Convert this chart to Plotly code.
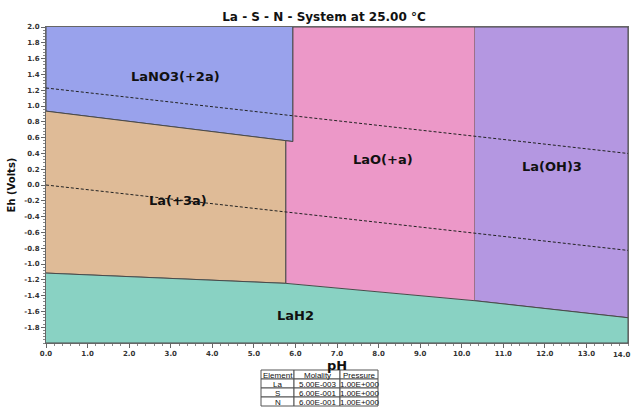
import plotly.graph_objects as go

# ---- data ----
# region polygons (pH, Eh)
lano3_ph = [0.0, 0.0, 5.94, 5.94]
lano3_eh = [2.0, 0.935, 0.55, 2.0]

la3_ph = [0.0, 5.77, 5.77, 0.0]
la3_eh = [0.935, 0.561, -1.245, -1.115]

lao_ph = [5.77, 5.77, 5.94, 5.94, 10.32, 10.32]
lao_eh = [-1.245, 0.561, 0.55, 2.0, 2.0, -1.465]

laoh3_ph = [10.32, 14.0, 14.0, 10.32]
laoh3_eh = [2.0, 2.0, -1.68, -1.465]

lah2_ph = [0.0, 5.77, 10.32, 14.0, 14.0, 0.0]
lah2_eh = [-1.115, -1.245, -1.465, -1.68, -2.0, -2.0]

# water stability lines
water_ph = [0.0, 14.0]
water_upper = [1.228, 0.399]
water_lower = [0.0, -0.828]

# labels
label_text = ["LaNO3(+2a)", "La(+3a)", "LaO(+a)", "La(OH)3", "LaH2"]
label_ph = [3.12, 3.17, 8.1, 12.17, 6.0]
label_eh = [1.37, -0.2, 0.32, 0.23, -1.65]

# table
tbl_header = ["Element", "Molality", "Pressure"]
tbl_element = ["La", "S", "N"]
tbl_molality = ["5.00E-003", "6.00E-001", "6.00E-001"]
tbl_pressure = ["1.00E+000", "1.00E+000", "1.00E+000"]

x_ticks = [i * 1.0 for i in range(15)]
y_ticks = [round(-1.8 + 0.2 * i, 1) for i in range(20)]

regions = [
    (lano3_ph, lano3_eh, "#99A2EC"),
    (la3_ph, la3_eh, "#DFBB97"),
    (lao_ph, lao_eh, "#EC98C8"),
    (laoh3_ph, laoh3_eh, "#B497E1"),
    (lah2_ph, lah2_eh, "#89D2C3"),
]

W, H = 633, 407
ML, MR, MT, MB = 46, 5, 27, 0
PW, PH = W - ML - MR, H - MT - MB


def px2x(px):
    return (px - ML) / PW


def py2y(py):
    return (H - MB - py) / PH


fig = go.Figure()
for px, py, col in regions:
    fig.add_trace(go.Scatter(x=px, y=py, fill="toself", fillcolor=col, mode="lines",
                             line=dict(color="#4a4a4a", width=1), hoverinfo="skip",
                             showlegend=False))

for wy in (water_upper, water_lower):
    fig.add_trace(go.Scatter(x=water_ph, y=wy, mode="lines",
                             line=dict(color="#222222", width=1, dash="3px,2px"),
                             hoverinfo="skip", showlegend=False))

for t, x, y in zip(label_text, label_ph, label_eh):
    fig.add_annotation(x=x, y=y, text="<b>" + t + "</b>", showarrow=False,
                       font=dict(family="DejaVu Sans", size=13, color="#111111"))

# right-edge tick label, kept inside the page
fig.add_annotation(x=14.0, y=-2.0, xref="x", yref="y", text="<b>14.0</b>", showarrow=False,
                   yanchor="top", yshift=-6, xanchor="right", xshift=4,
                   font=dict(family="DejaVu Sans", size=7, color="#333"))

# table drawn with shapes + annotations
col_edges = [261, 294, 340, 378]
row_top = 370
row_h = 9
rows = [tbl_header] + [list(r) for r in zip(tbl_element, tbl_molality, tbl_pressure)]
shapes = []
for ri, row in enumerate(rows):
    y0 = row_top + ri * row_h
    y1 = y0 + row_h
    for ci, txt in enumerate(row):
        shapes.append(dict(type="rect", xref="paper", yref="paper",
                           x0=px2x(col_edges[ci]), x1=px2x(col_edges[ci + 1]),
                           y0=py2y(y1), y1=py2y(y0),
                           line=dict(color="#555555", width=1), fillcolor="white"))
        fig.add_annotation(xref="paper", yref="paper",
                           x=px2x((col_edges[ci] + col_edges[ci + 1]) / 2),
                           y=py2y((y0 + y1) / 2 + 0.5), text=txt, showarrow=False,
                           xanchor="center", yanchor="middle",
                           font=dict(family="Liberation Sans", size=8, color="#111"))

fig.update_layout(
    width=W, height=H,
    margin=dict(l=ML, r=MR, t=MT, b=MB),
    plot_bgcolor="white", paper_bgcolor="white",
    shapes=shapes,
    title=dict(text="<b>La - S - N - System at 25.00 °C</b>", x=324 / 633, xanchor="center",
               y=1 - 17 / 407, yanchor="middle",
               font=dict(family="DejaVu Sans", size=12, color="#111")),
    xaxis=dict(range=[0, 14], tickvals=x_ticks[:-1], ticktext=[f"<b>{v:.1f}</b>" for v in x_ticks[:-1]],
               showgrid=True, gridcolor="rgba(120,120,120,0.25)", griddash="dot", gridwidth=1,
               showline=True, linecolor="#666", linewidth=1, mirror=True,
               ticks="outside", ticklen=4, tickcolor="#666",
               minor=dict(dtick=0.2, ticks="outside", ticklen=2, tickcolor="#888"),
               tickfont=dict(family="DejaVu Sans", size=7, color="#333"),
               title=dict(text="<b>pH</b>", standoff=0,
                          font=dict(family="DejaVu Sans", size=13, color="#111")),
               zeroline=False),
    yaxis=dict(range=[-2, 2], domain=[64 / 380, 1], tickvals=y_ticks,
               ticktext=[f"<b>{v:.1f}</b>" for v in y_ticks],
               showgrid=True, gridcolor="rgba(120,120,120,0.25)", griddash="dot", gridwidth=1,
               showline=True, linecolor="#666", linewidth=1, mirror=True,
               ticks="outside", ticklen=4, tickcolor="#666",
               minor=dict(dtick=0.04, ticks="outside", ticklen=2, tickcolor="#888"),
               tickfont=dict(family="DejaVu Sans", size=7, color="#333"),
               title=dict(text="<b>Eh (Volts)</b>", standoff=6,
                          font=dict(family="DejaVu Sans", size=10, color="#111")),
               zeroline=False),
)

fig.write_html("out.html")
